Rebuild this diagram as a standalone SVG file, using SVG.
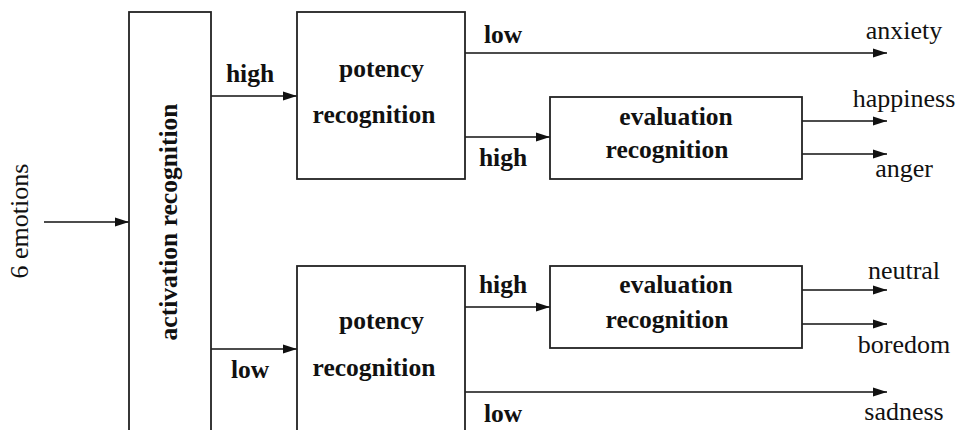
<svg xmlns="http://www.w3.org/2000/svg" width="959" height="430" viewBox="0 0 959 430">
<style>
.box{fill:#fff;stroke:#222;stroke-width:1.8}
.ln{fill:none;stroke:#111;stroke-width:1.6;marker-end:url(#ah)}
.b{font-family:"Palatino Linotype","Book Antiqua",Palatino,"Liberation Serif",serif;font-weight:bold;font-size:25.5px;fill:#111;text-anchor:middle}
.r{font-family:"Palatino Linotype","Book Antiqua",Palatino,"Liberation Serif",serif;font-size:26px;fill:#111;text-anchor:middle}
</style>
<defs>
<marker id="ah" markerUnits="userSpaceOnUse" markerWidth="14" markerHeight="10" refX="14" refY="5" orient="auto">
<path d="M0,0.5 L14,5 L0,9.5 z" fill="#111"/>
</marker>
</defs>
<rect width="959" height="430" fill="#fff"/>
<g id="connectors">
<line class="ln" x1="44" y1="222" x2="129" y2="222"/>
<line class="ln" x1="211" y1="96" x2="297" y2="96"/>
<line class="ln" x1="211" y1="349" x2="297" y2="349"/>
<line class="ln" x1="465" y1="53" x2="887" y2="53"/>
<line class="ln" x1="465" y1="137" x2="550" y2="137"/>
<line class="ln" x1="802" y1="121" x2="887" y2="121"/>
<line class="ln" x1="802" y1="154" x2="887" y2="154"/>
<line class="ln" x1="465" y1="307" x2="550" y2="307"/>
<line class="ln" x1="465" y1="392" x2="887" y2="392"/>
<line class="ln" x1="802" y1="290" x2="887" y2="290"/>
<line class="ln" x1="802" y1="324" x2="887" y2="324"/>
<text class="b" x="250" y="82">high</text>
<text class="b" x="250" y="378">low</text>
<text class="b" x="503" y="43">low</text>
<text class="b" x="503" y="166">high</text>
<text class="b" x="503" y="293">high</text>
<text class="b" x="503" y="422">low</text>
</g>
<g id="input">
<text class="r" transform="translate(28,221) rotate(-90)">6 emotions</text>
</g>
<g id="activation">
<rect class="box" x="129" y="12" width="82" height="440"/>
<text class="b" transform="translate(177,222) rotate(-90)">activation recognition</text>
</g>
<g id="potency-high">
<rect class="box" x="297" y="12" width="168" height="167"/>
<text class="b" x="381.5" y="77">potency</text>
<text class="b" x="374" y="123">recognition</text>
</g>
<g id="potency-low">
<rect class="box" x="297" y="266" width="168" height="190"/>
<text class="b" x="381.5" y="329">potency</text>
<text class="b" x="374" y="376">recognition</text>
</g>
<g id="evaluation-top">
<rect class="box" x="550" y="97" width="252" height="82"/>
<text class="b" x="676" y="125">evaluation</text>
<text class="b" x="667" y="158">recognition</text>
</g>
<g id="evaluation-bottom">
<rect class="box" x="550" y="266" width="252" height="82"/>
<text class="b" x="676" y="293">evaluation</text>
<text class="b" x="667" y="328">recognition</text>
</g>
<g id="outputs">
<text class="r" x="904" y="39">anxiety</text>
<text class="r" x="904" y="107">happiness</text>
<text class="r" x="904" y="177">anger</text>
<text class="r" x="904" y="279">neutral</text>
<text class="r" x="904" y="353">boredom</text>
<text class="r" x="904" y="420">sadness</text>
</g>
</svg>
